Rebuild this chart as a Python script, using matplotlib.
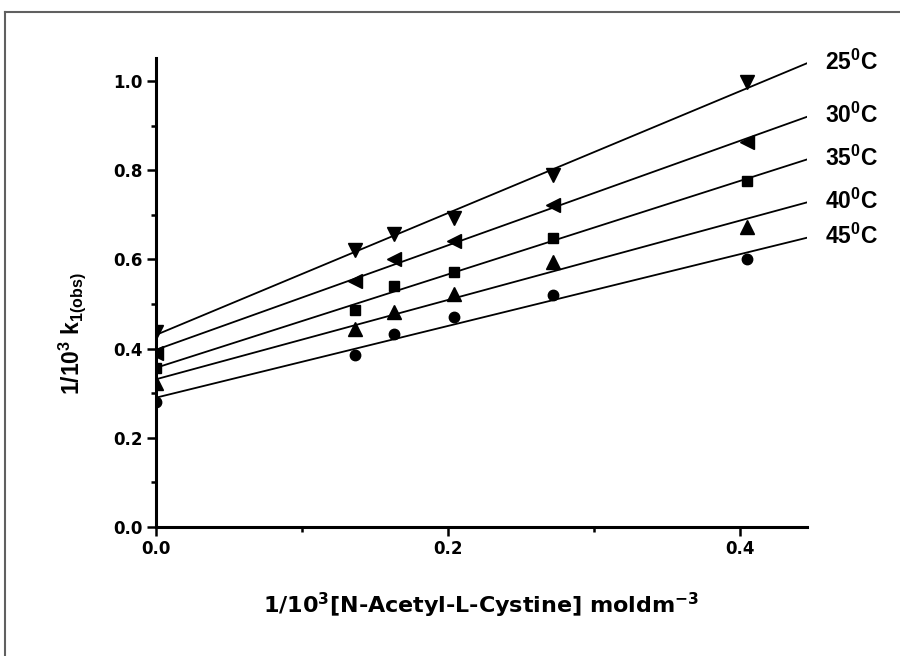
import numpy as np
import matplotlib
matplotlib.use("Agg")
import matplotlib.pyplot as plt
from matplotlib.lines import Line2D
from matplotlib.ticker import MultipleLocator

plt.rcParams['mathtext.default'] = 'regular'

# 1/[NAC] values and 1/k for each temperature
conc_inv = [0.0, 0.136, 0.163, 0.204, 0.272, 0.405]
k_inv_25 = [0.438, 0.622, 0.656, 0.692, 0.789, 0.998]
k_inv_30 = [0.390, 0.551, 0.600, 0.640, 0.721, 0.863]
k_inv_35 = [0.356, 0.486, 0.540, 0.571, 0.648, 0.776]
k_inv_40 = [0.322, 0.443, 0.482, 0.522, 0.594, 0.673]
k_inv_45 = [0.281, 0.385, 0.432, 0.470, 0.520, 0.600]
temps = ['25', '30', '35', '40', '45']
markers = ['v', '<', 's', '^', 'o']

series = [k_inv_25, k_inv_30, k_inv_35, k_inv_40, k_inv_45]

fig = plt.figure(figsize=(9, 6.56), dpi=100)
ax = fig.add_axes([156/900, 1-527/656, 651/900, 469.3/656])

xmax = 0.446
xfit = np.array([0.0, xmax])
for yv, mk, t in zip(series, markers, temps):
    ax.plot(conc_inv, yv, ls='none', marker=mk, ms=7.5 if mk in ('s', 'o') else 9.5,
            c='k', mec='k')
    p = np.polyfit(conc_inv, yv, 1)
    yfit = np.polyval(p, xfit)
    ax.plot(xfit, yfit, c='k', lw=1.3)
    ax.annotate(t + '$^0$C', xy=(xmax, yfit[-1]), xytext=(13, 1), textcoords='offset points',
                ha='left', va='center', fontsize=16.5, fontweight='bold',
                family='Liberation Sans', annotation_clip=False)

ax.set_xlim(0, xmax)
ax.set_ylim(0, 1.052)
ax.spines['top'].set_visible(False)
ax.spines['right'].set_visible(False)
for s in ['left', 'bottom']:
    ax.spines[s].set_linewidth(2.2)

ax.xaxis.set_major_locator(MultipleLocator(0.2))
ax.xaxis.set_minor_locator(MultipleLocator(0.1))
ax.yaxis.set_major_locator(MultipleLocator(0.2))
ax.yaxis.set_minor_locator(MultipleLocator(0.1))
ax.xaxis.set_major_formatter(matplotlib.ticker.FormatStrFormatter('%.1f'))
ax.yaxis.set_major_formatter(matplotlib.ticker.FormatStrFormatter('%.1f'))
ax.tick_params(which='major', direction='out', length=6.5, width=1.8, pad=3)
ax.tick_params(which='minor', direction='out', length=3.5, width=1.8)
for lab in ax.get_xticklabels() + ax.get_yticklabels():
    lab.set_fontsize(12)
    lab.set_fontweight('bold')
    lab.set_family('DejaVu Sans')

ax.set_xlabel('1/10$^3$[N-Acetyl-L-Cystine] moldm$^{-3}$', fontsize=16, fontweight='bold',
              family='DejaVu Sans', va='center')
ax.xaxis.set_label_coords(0.5, -0.166)
ax.set_ylabel('1/10$^3$ k$_{1(obs)}$', fontsize=16.5, fontweight='bold',
              family='Liberation Sans', va='center')
ax.yaxis.set_label_coords(-0.129, 0.413)

# grey frame round the picture
fig.add_artist(Line2D([5/900, 1], [1-12/656, 1-12/656], color='#606060', lw=1.5))
fig.add_artist(Line2D([5/900, 5/900], [0, 1-12/656], color='#606060', lw=1.5))

fig.savefig('out.png', dpi=100)
